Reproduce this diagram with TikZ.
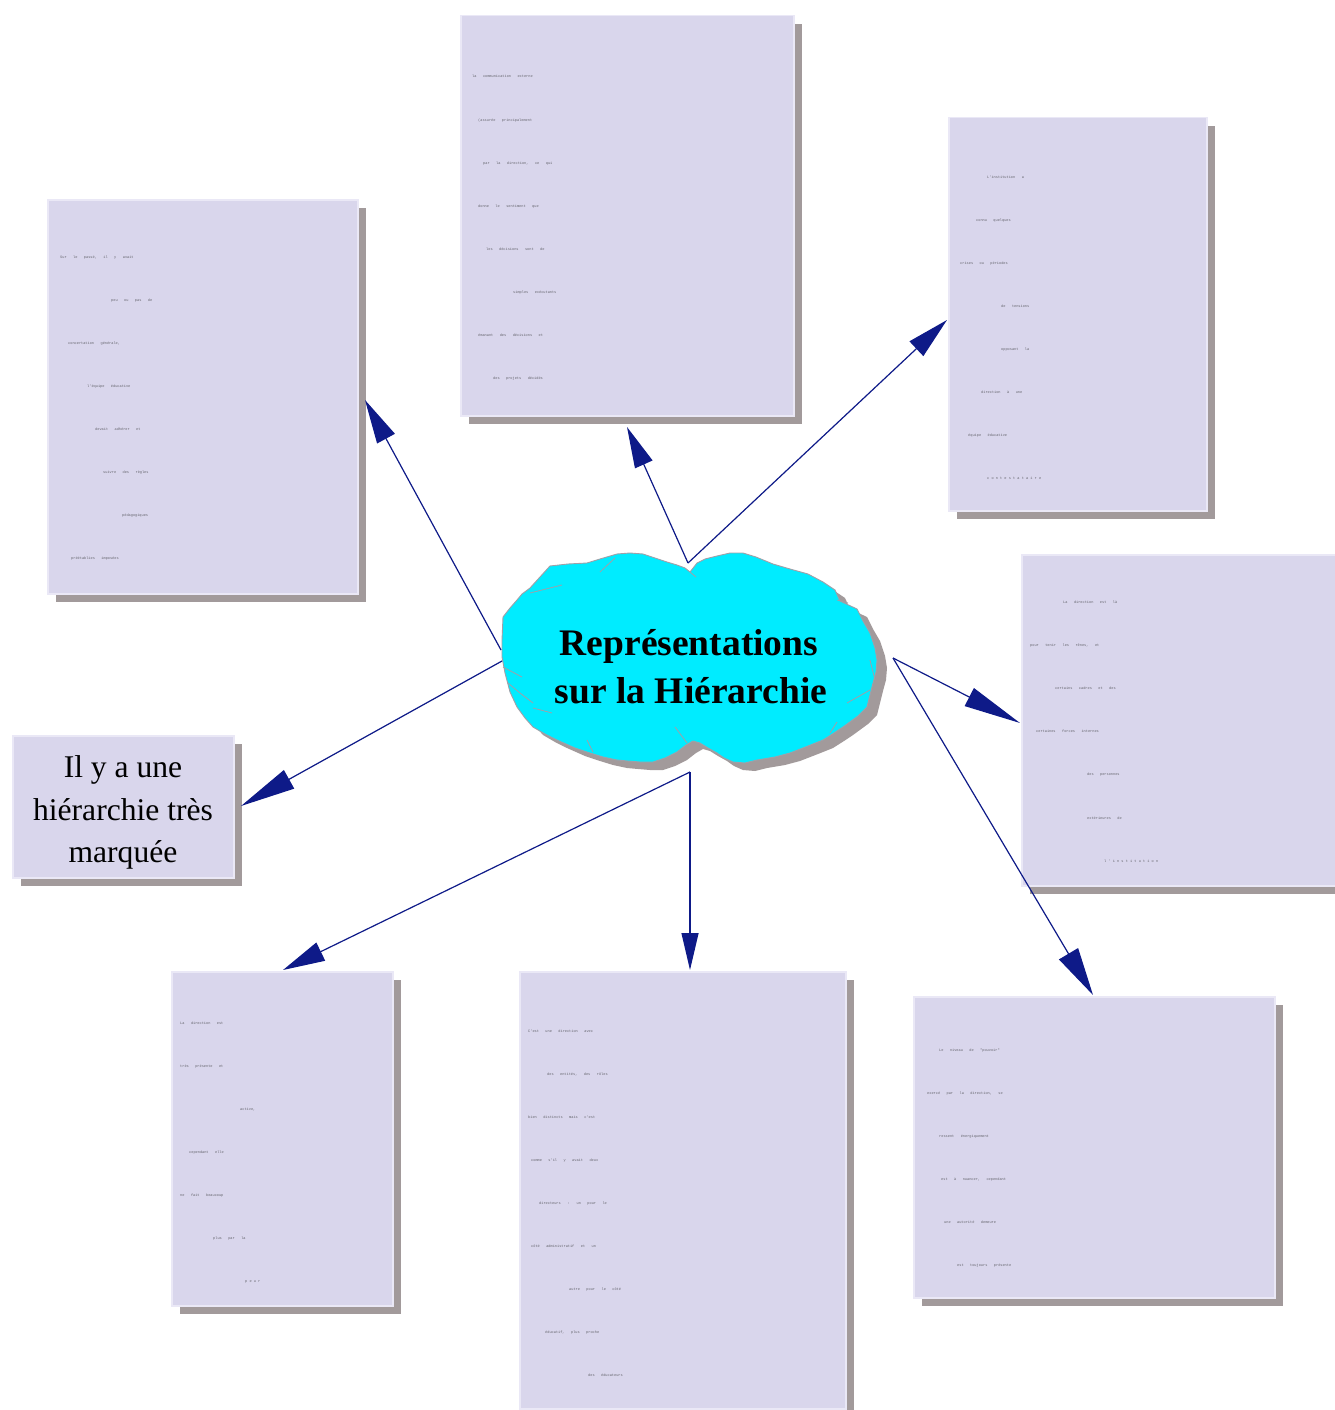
\documentclass[tikz,border=0pt]{standalone}
\usepackage{fontspec}
\setmainfont{Liberation Serif}
\newfontfamily\notemono[WordSpace=3]{Liberation Mono}
\usetikzlibrary{arrows.meta,shadows}

\definecolor{boxfill}{RGB}{217,214,236}
\definecolor{boxedge}{RGB}{234,232,246}
\definecolor{shadowgrey}{RGB}{162,154,155}
\definecolor{cloudcyan}{RGB}{0,236,255}
\definecolor{cloudedge}{RGB}{160,160,168}
\definecolor{link}{RGB}{14,26,136}
\definecolor{note}{RGB}{100,100,108}

\newcommand\spread[1]{{\addfontfeature{LetterSpace=60}#1}}

% outline of the central cloud
\newcommand\cloudoutline{(690,572) -- (697,563) -- (705,559) -- (717,556) -- (730,553) -- (743,553)
 -- (756,557) -- (773,564) -- (790,569) -- (808,574) -- (823,582) -- (835,590) -- (840,601)
 -- (857,609) -- (863,621) -- (870,633) -- (875,648) -- (877,660) -- (876,672) -- (873,683)
 -- (870,695) -- (867,707) -- (858,716) -- (843,727) -- (834,733) -- (823,740) -- (808,746)
 -- (790,753) -- (775,757) -- (757,760) -- (745,763) -- (733,762) -- (724,758) -- (717,753)
 -- (708,748) -- (700,743) -- (693,741) -- (686,745) -- (677,752) -- (665,758) -- (653,762)
 -- (640,762) -- (628,761) -- (617,760) -- (603,757) -- (590,753) -- (575,748) -- (557,740)
 -- (545,734) -- (533,727) -- (525,718) -- (517,707) -- (510,692) -- (505,673) -- (502,657)
 -- (502,640) -- (503,617) -- (510,608) -- (517,600) -- (522,594) -- (530,588) -- (540,577)
 -- (550,566) -- (568,564) -- (587,563) -- (600,559) -- (617,554) -- (630,553) -- (643,554)
 -- (655,558) -- (667,562) -- (677,565) -- (685,568) -- cycle}

\tikzset{
  card/.style={fill=boxfill, draw=boxedge, line width=1.5pt, anchor=north west,
    inner sep=0pt, drop shadow={shadow xshift=8pt, shadow yshift=-8pt, fill=shadowgrey, opacity=1}},
  tline/.style={font=\notemono\fontsize{3.6}{4}\selectfont, text=note, anchor=base west, inner sep=0pt},
  link/.style={draw=link, line width=1.2pt},
  crease/.style={draw=cloudedge, line width=0.8pt},
}

\begin{document}
\begin{tikzpicture}[x=1pt,y=-1pt]
\useasboundingbox[fill=white] (0,0) rectangle (1335,1410);

% note cards
\node[card, minimum width=333pt, minimum height=400pt] (nTop)      at (460,15)  {};
\node[card, minimum width=310pt, minimum height=394pt] (nLeft)     at (47,199)  {};
\node[card, minimum width=258pt, minimum height=393pt] (nRight)    at (948,117) {};
\node[card, minimum width=314pt, minimum height=331pt] (nRightMid) at (1021,554) {};
\node[card, minimum width=221pt, minimum height=142pt] (nMarked)   at (12,735)  {};
\node[card, minimum width=221pt, minimum height=334pt] (nBotLeft)  at (171,971) {};
\node[card, minimum width=326pt, minimum height=437pt] (nBotMid)   at (519,971) {};
\node[card, minimum width=361pt, minimum height=301pt] (nBotRight) at (913,996) {};

% card texts
\foreach \dx/\txt [count=\i] in {0/{la communication externe}, 6/{(assurée principalement},
  11/{par la direction, ce qui}, 6/{donne le sentiment que}, 14/{les décisions sont de},
  41/{simples exécutants}, 6/{émanant des décisions et}, 21/{des projets décidés}}
  \node[tline] (ta-\i) at ({472+\dx},{78+43.1*(\i-1)}) {\txt};

\foreach \dx/\txt [count=\i] in {0/{Sur le passé, il y avait}, 51/{peu ou pas de},
  8/{concertation générale,}, 27/{l'équipe éducative}, 35/{devait adhérer et},
  43/{suivre des règles}, 62/{pédagogiques}, 11/{préétablies imposées}}
  \node[tline] (tb-\i) at ({60+\dx},{258+43.1*(\i-1)}) {\txt};

\foreach \dx/\txt [count=\i] in {27/{L'institution a}, 16/{connu quelques},
  0/{crises ou périodes}, 41/{de tensions}, 41/{opposant la}, 21/{direction à une},
  8/{équipe éducative}, 27/{\spread{contestataire}}}
  \node[tline] (tc-\i) at ({960+\dx},{178+43*(\i-1)}) {\txt};

\foreach \dx/\txt [count=\i] in {33/{La direction est là}, 0/{pour tenir les rênes, et},
  25/{certains cadres et des}, 6/{certaines forces internes}, 57/{des personnes},
  57/{extérieures de}, 74/{\spread{l'institution}}}
  \node[tline] (td-\i) at ({1030+\dx},{603+43.2*(\i-1)}) {\txt};

\foreach \dx/\txt [count=\i] in {0/{La direction est}, 0/{très présente et}, 60/{active,},
  9/{cependant elle}, 0/{ne fait beaucoup}, 33/{plus par la}, 65/{\spread{peur}}}
  \node[tline] (te-\i) at ({180+\dx},{1024+43*(\i-1)}) {\txt};

\foreach \dx/\txt [count=\i] in {0/{C'est une direction avec}, 19/{des entités, des rôles},
  0/{bien distincts mais c'est}, 3/{comme s'il y avait deux}, 11/{directeurs : un pour le},
  3/{côté administratif et un}, 41/{autre pour le côté}, 17/{éducatif, plus proche},
  60/{des éducateurs}}
  \node[tline] (tf-\i) at ({528+\dx},{1032+43*(\i-1)}) {\txt};

\foreach \dx/\txt [count=\i] in {12/{Le niveau de "pouvoir"}, 0/{exercé par la direction, se},
  12/{ressent énergiquement}, 14/{est à nuancer, cependant}, 17/{une autorité demeure},
  30/{est toujours présente}}
  \node[tline] (tg-\i) at ({927+\dx},{1051+43*(\i-1)}) {\txt};

% the card with the large statement
\node[font=\fontsize{31.6}{36}\selectfont, anchor=base, inner sep=0pt] (mk1) at (123,777) {Il y a une};
\node[font=\fontsize{31.6}{36}\selectfont, anchor=base, inner sep=0pt] (mk2) at (123,820) {hiérarchie très};
\node[font=\fontsize{31.6}{36}\selectfont, anchor=base, inner sep=0pt] (mk3) at (123,862) {marquée};

% central cloud with its shadow and creases
\fill[shadowgrey, shift={(10,8)}] \cloudoutline;
\filldraw[fill=cloudcyan, draw=cloudedge, line width=0.9pt] \cloudoutline;
\draw[crease] (600,572) -- (615,558);
\draw[crease] (530,593) -- (562,585);
\draw[crease] (503,667) -- (522,677);
\draw[crease] (508,683) -- (520,693) -- (533,703);
\draw[crease] (533,708) -- (552,713);
\draw[crease] (587,740) -- (593,752);
\draw[crease] (675,727) -- (687,743);
\draw[crease] (690,572) -- (696,577);
\draw[crease] (837,600) -- (848,603);
\draw[crease] (847,703) -- (870,690);
\draw[crease] (870,660) -- (875,680);
\draw[crease] (830,733) -- (837,722);

\node[font=\bfseries\fontsize{37.5}{45}\selectfont, anchor=base, inner sep=0pt] (title1) at (689,655) {Représentations};
\node[font=\bfseries\fontsize{37.5}{45}\selectfont, anchor=base, inner sep=0pt] (title2) at (691,703) {sur la Hiérarchie};

% connector end points
\coordinate (hubN)  at (688,563);
\coordinate (hubW1) at (501,650);
\coordinate (hubW2) at (502,661);
\coordinate (hubE)  at (893,658);
\coordinate (hubS)  at (690,772);

\coordinate (tipTop)      at (627,427);
\coordinate (tipRight)    at (947,320);
\coordinate (tipLeft)     at (365,400);
\coordinate (tipMarked)   at (241,806);
\coordinate (tipRightMid) at (1020,723);
\coordinate (tipBotRight) at (1093,995);
\coordinate (tipBotMid)   at (690,970);
\coordinate (tipBotLeft)  at (283,970);

% connectors
\draw[link, -{Triangle[length=41pt,width=19pt,color=link]}] (hubN)  -- (tipTop);
\draw[link, -{Triangle[length=42pt,width=20pt,color=link]}] (hubN)  -- (tipRight);
\draw[link, -{Triangle[length=44pt,width=20pt,color=link]}] (hubW1) -- (tipLeft);
\draw[link, -{Triangle[length=55pt,width=21pt,color=link]}] (hubW2) -- (tipMarked);
\draw[link, -{Triangle[length=57pt,width=20pt,color=link]}] (hubE)  -- (tipRightMid);
\draw[link, -{Triangle[length=48pt,width=22pt,color=link]}] (hubE)  -- (tipBotRight);
\draw[link, -{Triangle[length=37pt,width=17pt,color=link]}] (hubS)  -- (tipBotMid);
\draw[link, -{Triangle[length=42pt,width=20pt,color=link]}] (hubS)  -- (tipBotLeft);
\end{tikzpicture}
\end{document}
